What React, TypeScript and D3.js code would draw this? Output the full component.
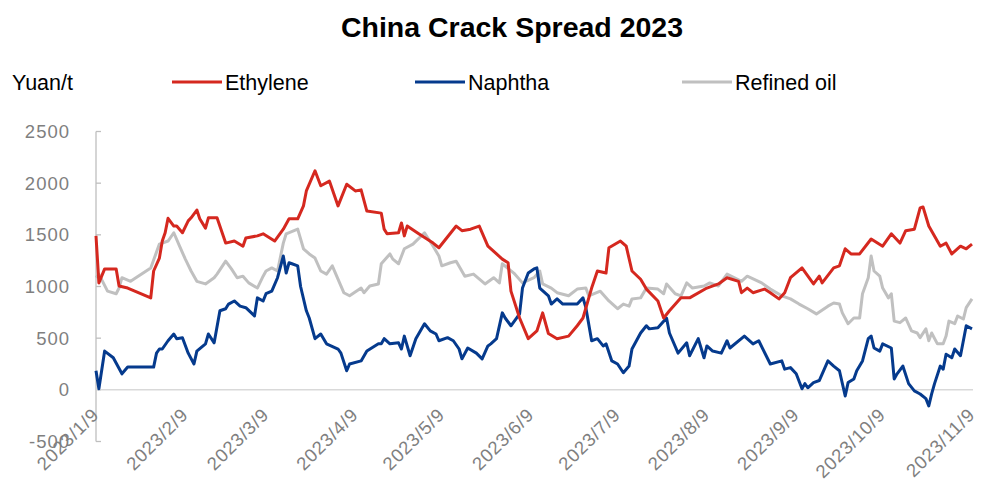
import React from "react";
import * as d3 from "d3";

// Day offsets from 2023-01-09, value in Yuan/t
const ethylene: [number, number][] = [
  [0,1490],[1,1035],[3,1170],[7,1170],[8,1005],[11,985],[19,890],[20,1150],[22,1275],[23,1440],[24,1520],[25,1660],[27,1585],[28,1585],[30,1520],[32,1635],[33,1665],[35,1740],[36,1655],[38,1565],[39,1665],[42,1665],[45,1420],[48,1440],[51,1390],[52,1470],[56,1490],[58,1510],[62,1440],[65,1555],[67,1655],[70,1655],[72,1780],[73,1925],[76,2120],[78,1975],[81,2020],[84,1780],[87,1990],[90,1925],[92,1935],[94,1730],[99,1710],[100,1555],[101,1510],[105,1520],[106,1615],[107,1490],[108,1585],[112,1510],[117,1420],[119,1375],[125,1585],[127,1540],[130,1555],[133,1585],[136,1390],[139,1315],[141,1265],[143,1230],[144,955],[147,695],[150,495],[153,570],[155,745],[157,545],[160,495],[164,520],[167,620],[169,695],[172,985],[174,1150],[177,1130],[178,1375],[182,1440],[184,1390],[186,1150],[189,1070],[191,975],[195,860],[197,695],[199,765],[203,890],[206,890],[212,985],[216,1025],[219,1085],[223,1050],[224,940],[226,985],[228,940],[232,975],[234,940],[237,880],[239,940],[241,1085],[245,1180],[249,1025],[251,1100],[252,1035],[256,1180],[258,1200],[260,1365],[262,1315],[265,1315],[269,1460],[273,1390],[276,1510],[279,1420],[281,1540],[284,1555],[286,1760],[287,1770],[289,1585],[293,1390],[295,1420],[297,1315],[300,1390],[302,1365],[304,1410]
];

const naphtha: [number, number][] = [
  [0,185],[1,10],[3,375],[6,310],[9,155],[11,220],[20,220],[21,355],[22,395],[23,395],[25,475],[27,540],[28,495],[30,505],[32,355],[34,250],[35,375],[38,445],[39,540],[41,455],[43,765],[45,785],[46,830],[48,860],[50,810],[52,795],[55,715],[56,890],[58,860],[59,930],[61,955],[63,1085],[65,1295],[66,1130],[67,1230],[68,1220],[70,1200],[71,1000],[73,765],[74,695],[76,495],[78,540],[80,445],[84,395],[85,355],[87,185],[88,250],[92,280],[94,375],[98,445],[99,445],[100,495],[102,445],[105,455],[106,395],[107,520],[109,330],[111,495],[114,640],[116,570],[118,540],[119,475],[122,505],[124,475],[126,395],[127,300],[129,405],[132,355],[134,300],[136,425],[137,445],[139,495],[141,745],[142,695],[144,620],[147,735],[148,985],[150,1130],[152,1170],[153,1180],[154,985],[157,910],[158,830],[160,880],[162,830],[167,830],[169,890],[170,795],[172,475],[174,495],[176,425],[177,445],[179,280],[181,250],[183,165],[185,230],[186,395],[189,550],[191,620],[192,590],[195,600],[198,695],[199,550],[202,355],[205,455],[206,330],[209,495],[211,310],[212,425],[214,375],[217,355],[219,475],[220,405],[225,520],[228,445],[230,475],[234,250],[238,280],[239,200],[241,215],[243,155],[245,10],[246,60],[247,20],[249,70],[251,90],[254,280],[256,230],[258,185],[260,-60],[261,70],[263,105],[264,185],[266,280],[268,495],[269,520],[270,405],[272,375],[273,445],[276,405],[277,105],[278,155],[280,230],[282,60],[284,-10],[286,-40],[288,-85],[289,-155],[290,-40],[291,60],[293,230],[294,200],[295,345],[297,310],[298,395],[300,330],[302,620],[304,590]
];

const refinedOil: [number, number][] = [
  [0,1085],[1,1120],[4,955],[7,930],[8,985],[9,1085],[12,1050],[19,1180],[22,1410],[25,1440],[27,1520],[29,1390],[31,1265],[33,1150],[35,1050],[38,1025],[41,1085],[42,1120],[45,1245],[47,1170],[49,1085],[51,1100],[53,1035],[56,985],[58,1100],[59,1150],[61,1180],[63,1150],[65,1420],[66,1510],[70,1555],[72,1365],[74,1315],[76,1275],[78,1150],[80,1120],[82,1200],[86,940],[88,910],[92,985],[93,940],[95,1005],[98,1025],[99,1220],[102,1315],[103,1265],[105,1220],[107,1365],[110,1410],[114,1520],[117,1390],[119,1295],[120,1200],[123,1230],[125,1245],[128,1100],[131,1120],[135,1025],[138,1085],[140,1035],[141,1220],[145,1130],[148,1035],[152,1085],[154,1150],[155,1025],[158,985],[160,940],[164,910],[167,975],[170,985],[171,910],[175,955],[178,860],[181,785],[183,830],[185,810],[186,880],[189,890],[191,985],[195,975],[197,930],[198,1025],[201,930],[203,910],[205,1035],[207,985],[211,1005],[213,1035],[216,1005],[219,1120],[224,1050],[226,1100],[231,1035],[234,975],[238,910],[241,880],[244,830],[247,785],[250,735],[254,810],[256,840],[258,830],[259,745],[261,640],[263,695],[265,695],[266,930],[268,1085],[269,1295],[270,1150],[272,1100],[273,985],[275,890],[276,930],[277,665],[279,650],[281,695],[283,570],[285,550],[286,505],[288,590],[289,475],[290,550],[292,445],[294,445],[295,520],[296,665],[298,640],[299,715],[301,685],[302,795],[304,880]
];

const seriesNames = ["Ethylene", "Naphtha", "Refined oil"];
const seriesColors = ["#d5281f", "#053a8d", "#c0c0c0"];
const yTicks = [-500, 0, 500, 1000, 1500, 2000, 2500];
const xTickLabels = ["2023/1/9","2023/2/9","2023/3/9","2023/4/9","2023/5/9","2023/6/9","2023/7/9","2023/8/9","2023/9/9","2023/10/9","2023/11/9"];
const title = "China Crack Spread 2023";
const unit = "Yuan/t";

const startDate = new Date(2023, 0, 9);
const toDate = (d: number) => d3.timeDay.offset(startDate, d);
const parseLabel = (s: string) => {
  const [y, m, d] = s.split("/").map(Number);
  return new Date(y, m - 1, d);
};

const W = 1000, H = 501;
const x = d3.scaleTime().domain([startDate, new Date(2023, 10, 9)]).range([96, 972]);
const y = d3.scaleLinear().domain([-500, 2500]).range([441.5, 131.5]);

export default function App() {
  const line = d3
    .line<[number, number]>()
    .x((p) => x(toDate(p[0])))
    .y((p) => y(p[1]));
  const allSeries = [ethylene, naphtha, refinedOil];
  const font = "'Liberation Sans', Arial, sans-serif";
  const legendX = [172, 415, 682];
  return (
    <div style={{ position: "fixed", left: 0, top: 0 }}>
      <svg width={W} height={H} style={{ display: "block", background: "#fff" }} fontFamily={font}>
        <text x={512} y={37} textAnchor="middle" fontSize={28.5} fontWeight="bold" fill="#000">{title}</text>
        <text x={12} y={90} fontSize={21.5} fill="#000">{unit}</text>
        {seriesNames.map((n, i) => (
          <g key={n}>
            <line x1={legendX[i]} x2={legendX[i] + 50} y1={82} y2={82} stroke={seriesColors[i]} strokeWidth={3} />
            <text x={legendX[i] + 53} y={90} fontSize={21.5} fill="#000">{n}</text>
          </g>
        ))}
        {/* y axis */}
        <line x1={96} x2={96} y1={y(2500)} y2={y(-500)} stroke="#bfbfbf" strokeWidth={1.3} />
        {yTicks.map((t) => (
          <g key={t}>
            <line x1={96} x2={101} y1={y(t)} y2={y(t)} stroke="#bfbfbf" strokeWidth={1.3} />
            <text x={70} y={y(t)} dy="0.35em" textAnchor="end" fontSize={18.5} fill="#7f7f7f" letterSpacing={1}>{t}</text>
          </g>
        ))}
        {/* zero line */}
        <line x1={96} x2={973} y1={y(0)} y2={y(0)} stroke="#d9d9d9" strokeWidth={1.5} />
        {/* x labels */}
        {xTickLabels.map((l) => {
          const px = x(parseLabel(l));
          return (
            <text key={l} transform={`translate(${px + 4},${416}) rotate(-45)`} textAnchor="end" fontSize={18.5} fill="#7f7f7f" letterSpacing={0.8}>{l}</text>
          );
        })}
        {allSeries.map((s, i) => (
          <path key={i} d={line(s) || ""} fill="none" stroke={seriesColors[i]} strokeWidth={3} strokeLinejoin="round" />
        )).reverse()}
      </svg>
    </div>
  );
}
